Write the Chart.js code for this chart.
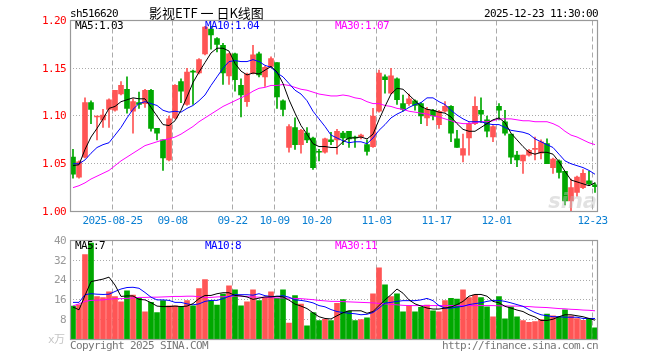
<!DOCTYPE html>
<html><head><meta charset="utf-8">
<script src="https://cdn.jsdelivr.net/npm/chart.js@4.4.1/dist/chart.umd.min.js"></script>
<style>
body{margin:0;background:#fff;width:660px;height:360px;overflow:hidden;position:relative}
canvas{position:absolute;left:0}
</style></head>
<body>
<canvas id="k" width="660" height="232" style="top:0"></canvas>
<canvas id="v" width="660" height="128" style="top:232px"></canvas>
<script>
const dates = ['2025-08-14','2025-08-15','2025-08-18','2025-08-19','2025-08-20','2025-08-21','2025-08-22','2025-08-25','2025-08-26','2025-08-27','2025-08-28','2025-08-29',
'2025-09-01','2025-09-02','2025-09-03','2025-09-04','2025-09-05','2025-09-08','2025-09-09','2025-09-10','2025-09-11','2025-09-12','2025-09-15','2025-09-16','2025-09-17','2025-09-18','2025-09-19','2025-09-22','2025-09-23','2025-09-24','2025-09-25','2025-09-26','2025-09-29','2025-09-30',
'2025-10-09','2025-10-10','2025-10-13','2025-10-14','2025-10-15','2025-10-16','2025-10-17','2025-10-20','2025-10-21','2025-10-22','2025-10-23','2025-10-24','2025-10-27','2025-10-28','2025-10-29','2025-10-30','2025-10-31',
'2025-11-03','2025-11-04','2025-11-05','2025-11-06','2025-11-07','2025-11-10','2025-11-11','2025-11-12','2025-11-13','2025-11-14','2025-11-17','2025-11-18','2025-11-19','2025-11-20','2025-11-21','2025-11-24','2025-11-25','2025-11-26','2025-11-27','2025-11-28',
'2025-12-01','2025-12-02','2025-12-03','2025-12-04','2025-12-05','2025-12-08','2025-12-09','2025-12-10','2025-12-11','2025-12-12','2025-12-15','2025-12-16','2025-12-17','2025-12-18','2025-12-19','2025-12-22','2025-12-23'];

const open = [1.057,1.036,1.057,1.114,1.099,1.096,1.107,1.106,1.123,1.128,
1.105,1.114,1.113,1.127,1.087,1.075,1.054,1.098,1.136,1.112,
1.147,1.145,1.165,1.191,1.181,1.174,1.142,1.165,1.132,1.115,
1.145,1.165,1.141,1.152,1.156,1.116,1.067,1.088,1.070,1.082,
1.077,1.063,1.062,1.075,1.075,1.082,1.084,1.078,1.078,1.070,
1.068,1.105,1.141,1.124,1.139,1.113,1.113,1.116,1.113,1.098,
1.106,1.091,1.105,1.110,1.076,1.059,1.077,1.092,1.106,1.096,
1.078,1.110,1.094,1.081,1.059,1.053,1.059,1.065,1.061,1.071,
1.046,1.053,1.042,1.011,1.020,1.025,1.032,1.028];
const high = [1.065,1.053,1.119,1.116,1.100,1.107,1.118,1.127,1.136,1.141,
1.118,1.125,1.128,1.128,1.087,1.075,1.100,1.133,1.139,1.150,
1.148,1.160,1.194,1.194,1.182,1.176,1.166,1.166,1.139,1.145,
1.174,1.167,1.152,1.162,1.156,1.117,1.091,1.098,1.086,1.088,
1.078,1.065,1.077,1.083,1.086,1.084,1.084,1.079,1.081,1.075,
1.108,1.148,1.143,1.150,1.140,1.122,1.123,1.117,1.114,1.109,
1.107,1.106,1.115,1.111,1.085,1.081,1.093,1.120,1.119,1.100,
1.090,1.113,1.106,1.081,1.063,1.059,1.065,1.078,1.075,1.076,
1.056,1.054,1.042,1.034,1.037,1.044,1.042,1.030];
const low = [1.035,1.035,1.056,1.092,1.075,1.088,1.088,1.105,1.122,1.103,
1.082,1.108,1.109,1.084,1.075,1.043,1.053,1.097,1.114,1.111,
1.112,1.144,1.164,1.170,1.167,1.133,1.133,1.126,1.099,1.110,
1.144,1.141,1.131,1.151,1.108,1.100,1.062,1.065,1.061,1.072,
1.044,1.053,1.061,1.070,1.060,1.070,1.067,1.067,1.076,1.059,
1.067,1.104,1.124,1.123,1.112,1.105,1.111,1.106,1.092,1.090,
1.096,1.087,1.104,1.073,1.067,1.052,1.059,1.091,1.093,1.078,
1.073,1.096,1.080,1.050,1.047,1.040,1.058,1.054,1.055,1.050,
1.040,1.035,1.007,1.000,1.016,1.024,1.027,1.020];
const close = [1.039,1.052,1.114,1.107,1.100,1.101,1.117,1.127,1.132,1.108,
1.115,1.112,1.127,1.087,1.082,1.056,1.097,1.132,1.126,1.146,
1.146,1.159,1.193,1.185,1.175,1.145,1.165,1.138,1.122,1.144,
1.164,1.143,1.151,1.160,1.120,1.107,1.089,1.070,1.085,1.075,
1.046,1.062,1.076,1.073,1.084,1.077,1.076,1.077,1.080,1.063,
1.100,1.145,1.138,1.142,1.117,1.107,1.118,1.111,1.100,1.107,
1.100,1.105,1.110,1.082,1.067,1.066,1.092,1.110,1.102,1.084,
1.089,1.106,1.082,1.057,1.054,1.059,1.064,1.066,1.073,1.050,
1.055,1.041,1.011,1.025,1.036,1.040,1.029,1.026];

const ma5 = [1.048,1.049,1.065,1.078,1.087,1.097,1.108,1.110,1.115,1.117,
1.119,1.118,1.118,1.109,1.100,1.091,1.090,1.095,1.106,1.120,
1.135,1.146,1.156,1.166,1.171,1.171,1.168,1.155,1.147,1.143,
1.145,1.144,1.148,1.152,1.146,1.134,1.117,1.103,1.090,1.081,
1.071,1.068,1.068,1.067,1.067,1.073,1.077,1.077,1.078,1.076,
1.081,1.096,1.110,1.123,1.129,1.128,1.122,1.116,1.110,1.107,
1.106,1.104,1.103,1.099,1.092,1.086,1.084,1.084,1.088,1.092,
1.096,1.098,1.093,1.082,1.075,1.068,1.062,1.060,1.062,1.062,
1.060,1.052,1.042,1.033,1.031,1.029,1.027,1.030];
const ma10 = [1.050,1.050,1.054,1.061,1.067,1.070,1.072,1.080,1.088,1.098,
1.107,1.113,1.115,1.113,1.111,1.106,1.104,1.105,1.104,1.108,
1.111,1.116,1.122,1.132,1.141,1.150,1.157,1.158,1.157,1.157,
1.159,1.157,1.153,1.151,1.145,1.141,1.134,1.127,1.123,1.116,
1.105,1.097,1.089,1.080,1.077,1.074,1.072,1.073,1.073,1.071,
1.077,1.085,1.091,1.098,1.102,1.105,1.109,1.112,1.114,1.119,
1.119,1.115,1.112,1.106,1.101,1.097,1.094,1.094,1.094,1.092,
1.091,1.091,1.088,1.085,1.084,1.083,1.081,1.076,1.073,1.070,
1.067,1.060,1.053,1.050,1.048,1.046,1.043,1.039];
const ma30 = [1.025,1.027,1.030,1.034,1.037,1.040,1.043,1.048,1.053,1.057,
1.061,1.065,1.069,1.071,1.073,1.075,1.076,1.078,1.081,1.085,
1.089,1.094,1.098,1.102,1.106,1.110,1.113,1.116,1.119,1.122,
1.126,1.129,1.130,1.132,1.132,1.133,1.132,1.130,1.128,1.127,
1.125,1.123,1.122,1.121,1.121,1.122,1.121,1.119,1.118,1.115,
1.113,1.113,1.111,1.110,1.108,1.107,1.105,1.104,1.103,1.102,
1.100,1.099,1.097,1.095,1.093,1.092,1.092,1.093,1.094,1.094,
1.095,1.097,1.097,1.097,1.096,1.095,1.095,1.094,1.094,1.094,
1.092,1.089,1.084,1.080,1.078,1.075,1.072,1.070];

const volume = [13.5,14.0,34.3,39.0,17.3,16.9,19.3,17.3,15.2,19.7,
17.9,16.6,11.2,15.0,10.9,15.7,13.6,13.6,13.4,15.7,
13.6,20.6,24.2,15.7,13.9,18.4,21.7,20.1,13.6,15.2,
20.1,15.7,16.7,19.3,16.6,20.1,6.6,17.7,14.3,5.5,
10.9,7.6,8.2,7.6,14.6,16.1,11.5,7.6,8.0,8.8,
18.5,29.0,22.1,17.3,18.5,11.2,13.6,11.2,13.0,13.9,
11.6,11.2,15.7,16.6,16.3,20.1,16.9,17.9,16.9,13.2,
9.2,17.3,8.4,13.2,9.2,7.6,6.9,7.2,8.0,10.3,
9.6,9.2,12.0,9.6,8.5,7.7,8.5,4.7];
const volMa5 = [13.1,12.0,17.8,23.4,23.9,24.4,25.2,22.0,17.4,17.6,
17.6,16.2,16.0,14.9,13.5,13.3,13.3,13.5,13.3,13.5,
14.5,16.5,17.8,17.8,18.5,18.9,18.9,17.8,17.6,17.2,
16.2,16.7,17.2,17.2,17.5,17.2,15.9,14.3,13.5,12.5,
10.8,9.2,8.5,8.3,9.6,10.8,11.6,11.6,11.6,10.6,
11.3,13.7,16.0,18.1,20.4,18.7,16.0,14.4,13.5,12.7,
12.3,12.3,12.7,13.1,14.1,15.4,17.5,18.2,18.2,17.5,
15.4,14.8,13.4,12.7,11.9,11.3,10.0,9.1,7.7,7.7,
8.2,9.2,10.0,10.0,9.6,9.2,8.5,7.8];
const volMa10 = [15.0,15.0,18.1,18.5,18.3,18.2,18.3,19.4,20.4,21.0,
21.1,20.7,19.0,17.1,16.0,16.0,15.8,15.0,15.0,14.4,
14.0,14.4,15.4,15.8,15.8,16.5,17.4,18.1,18.1,18.1,
17.9,18.5,17.7,17.4,17.4,17.7,17.1,16.0,15.8,15.4,
14.8,13.7,13.2,12.1,11.3,10.9,10.6,10.4,10.0,10.2,
10.9,12.7,14.7,15.0,15.4,15.7,15.7,15.7,16.0,16.6,
15.7,13.7,12.7,12.7,13.1,13.4,14.1,14.5,14.8,15.4,
15.8,15.8,15.4,14.8,14.1,13.4,12.1,10.9,10.0,9.6,
9.2,9.2,9.0,9.0,9.0,8.5,8.5,8.5];
const volMa30 = [13.6,14.4,15.4,15.8,15.9,16.0,16.3,16.5,16.5,16.6,
16.8,17.0,17.0,17.1,17.1,17.2,17.3,17.4,17.4,17.5,
17.5,17.3,17.0,17.0,17.2,17.3,17.4,17.6,17.5,17.3,
17.2,17.1,17.0,16.9,16.8,16.8,16.7,16.6,16.5,16.3,
16.1,15.8,15.6,15.4,15.4,15.3,15.2,15.1,15.0,14.9,
14.8,14.6,14.4,14.2,14.0,13.8,13.7,13.7,13.7,13.7,
13.7,13.7,13.7,13.7,13.7,13.7,13.7,13.7,13.7,13.7,
13.7,13.6,13.6,13.5,13.5,13.4,13.3,13.1,13.0,12.9,
12.7,12.5,12.4,12.2,12.1,11.9,11.8,11.6];

const priceTicks = [1.00,1.05,1.10,1.15,1.20];
const priceTickText = ['1.00','1.05','1.10','1.15','1.20'];
const volTicks = [8,16,24,32,40];
const volTickText = ['8','16','24','32','40'];
const dateTicks = ['2025-08-25','2025-09-08','2025-09-22','2025-10-09','2025-10-20','2025-11-03','2025-11-17','2025-12-01','2025-12-23'];
const dateTickText = ['2025-08-25','09-08','09-22','10-09','10-20','11-03','11-17','12-01','12-23'];
const headerCode = 'sh516620';
const headerTitle = '影视ETF 一 日K线图';
const headerTime = '2025-12-23 11:30:00';
const priceMaText = ['MA5:1.03','MA10:1.04','MA30:1.07'];
const volMaText = ['MA5:7','MA10:8','MA30:11'];

const UP = '#ff5555', DOWN = '#00a800';
const MA_COLORS = ['#000000','#0000ff','#ff00ff'];
const MONO = '11px "DejaVu Sans Mono", monospace';
const candleColors = close.map((c,i)=> c >= open[i] ? UP : DOWN);

function txt(ctx, s, x, y, color, align, font, spacing){
  ctx.save();
  ctx.font = font || MONO;
  ctx.letterSpacing = spacing === undefined ? '-0.62px' : spacing;
  ctx.fillStyle = color;
  ctx.textAlign = align || 'left';
  ctx.textBaseline = 'middle';
  ctx.fillText(s, x, y);
  ctx.restore();
}

function gridPlugin(yTicks, isPrice){
  return {
    id: 'grid' + (isPrice ? 'P' : 'V'),
    beforeDatasetsDraw(chart){
      const {ctx, chartArea:a, scales:{x, y}} = chart;
      ctx.save();
      ctx.strokeStyle = '#aaaaaa';
      ctx.lineWidth = 1;
      // horizontal dotted
      ctx.setLineDash([1,2]);
      yTicks.forEach(v=>{
        const py = Math.floor(y.getPixelForValue(v)) + 0.5;
        if (py <= a.top + 1 || py >= a.bottom - 1) return;
        ctx.beginPath(); ctx.moveTo(a.left, py); ctx.lineTo(a.right, py); ctx.stroke();
      });
      // vertical dashed
      ctx.setLineDash([5,3]);
      const half = (x.getPixelForValue(1) - x.getPixelForValue(0)) / 2;
      dateTicks.forEach(d=>{
        const px = Math.round(x.getPixelForValue(dates.indexOf(d)) - half) + 0.5;
        ctx.beginPath(); ctx.moveTo(px, a.top); ctx.lineTo(px, a.bottom); ctx.stroke();
      });
      ctx.restore();
    },
    afterDatasetsDraw(chart){
      const {ctx, chartArea:a, scales:{x, y}} = chart;
      ctx.save();
      ctx.strokeStyle = '#999999';
      ctx.lineWidth = 1.2;
      ctx.strokeRect(a.left + 0.5, a.top, a.right - a.left - 1, a.bottom - a.top);
      ctx.restore();
      const half = (x.getPixelForValue(1) - x.getPixelForValue(0)) / 2;
      if (isPrice){
        priceTicks.forEach((v,i)=> txt(ctx, priceTickText[i], 66, y.getPixelForValue(v) + 0.5, '#ff0000', 'right'));
        dateTicks.forEach((d,i)=> txt(ctx, dateTickText[i], x.getPixelForValue(dates.indexOf(d)) - half + 0.5, 221, '#0a7fd2', 'center'));
        txt(ctx, headerCode, 70, 14, '#000');
        txt(ctx, headerTitle, 149, 13.5, '#000', 'left', '13px "Noto Sans CJK SC", sans-serif', '0px');
        txt(ctx, headerTime, 598, 14, '#000', 'right');
        const mx = [75, 205, 335];
        priceMaText.forEach((s,i)=> txt(ctx, s, mx[i], 26, MA_COLORS[i]));
        ctx.save();
        ctx.font = 'italic bold 21px "DejaVu Sans", sans-serif';
        ctx.fillStyle = 'rgba(190,190,190,0.45)';
        ctx.textAlign = 'right'; ctx.textBaseline = 'alphabetic';
        ctx.fillText('sina', 597, 208);
        ctx.restore();
      } else {
        volTicks.forEach((v,i)=> txt(ctx, volTickText[i], 66, y.getPixelForValue(v) + 0.5, '#999999', 'right'));
        txt(ctx, 'x万', 48, 108.5, '#c4c4c4', 'left', '11px "DejaVu Sans Mono", "Noto Sans CJK SC", monospace', '-0.6px');
        txt(ctx, 'Copyright 2025 SINA.COM', 70, 114, '#777777');
        txt(ctx, 'http://finance.sina.com.cn', 598, 114, '#777777', 'right');
        const mx = [75, 205, 335];
        volMaText.forEach((s,i)=> txt(ctx, s, mx[i], 14.5, MA_COLORS[i]));
      }
    }
  };
}

function lineDs(data, color){
  return {type:'line', data, borderColor:color, borderWidth:1, pointRadius:0, tension:0, fill:false, order:0};
}

const baseOpts = (pad, ymin, ymax) => ({
  responsive:false, animation:false, devicePixelRatio:1,
  layout:{padding:pad},
  plugins:{legend:{display:false}, tooltip:{enabled:false}},
  scales:{
    x:{type:'category', display:false, offset:true, grid:{display:false}},
    y:{type:'linear', display:false, min:ymin, max:ymax}
  }
});

new Chart(document.getElementById('k'), {
  type:'bar',
  data:{
    labels: dates,
    datasets:[
      lineDs(ma5, MA_COLORS[0]),
      lineDs(ma10, MA_COLORS[1]),
      lineDs(ma30, MA_COLORS[2]),
      {type:'bar', data: open.map((o,i)=>[o, close[i]]), backgroundColor: candleColors, barThickness:5, grouped:false, minBarLength:1, borderWidth:0, order:1},
      {type:'bar', data: low.map((l,i)=>[l, high[i]]), backgroundColor: candleColors, barThickness:1, grouped:false, borderWidth:0, order:2}
    ]
  },
  options: baseOpts({left:70, right:62, top:20.5, bottom:20.5}, priceTicks[0], priceTicks[priceTicks.length-1]),
  plugins:[gridPlugin(priceTicks, true)]
});

new Chart(document.getElementById('v'), {
  type:'bar',
  data:{
    labels: dates,
    datasets:[
      lineDs(volMa5, MA_COLORS[0]),
      lineDs(volMa10, MA_COLORS[1]),
      lineDs(volMa30, MA_COLORS[2]),
      {type:'bar', data: volume, backgroundColor: candleColors, barThickness:5, grouped:false, borderWidth:0, order:1}
    ]
  },
  options: baseOpts({left:70, right:62, top:8.5, bottom:20.5}, 0, volTicks[volTicks.length-1]),
  plugins:[gridPlugin(volTicks, false)]
});
</script>
</body></html>
